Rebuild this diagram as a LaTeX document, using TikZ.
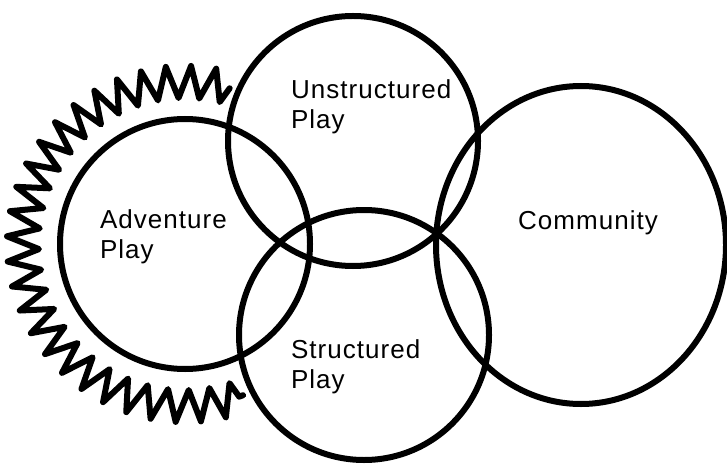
\documentclass[tikz,border=0pt]{standalone}
\usepackage{fontspec}
\setmainfont{Liberation Sans}[LetterSpace=4]
\usetikzlibrary{decorations.pathmorphing}

\begin{document}
\begin{tikzpicture}[x=1pt,y=1pt,line width=6pt,line join=round,line cap=round,
  ring/.style={draw,circle,inner sep=0pt,minimum size=250pt},
  lbl/.style={align=left,anchor=west,inner sep=0pt,font=\fontsize{26}{30}\selectfont},
  zig/.style={decorate,decoration={zigzag,segment length=23pt,amplitude=16pt}}]
  \useasboundingbox (0,0) rectangle (727,469);
  % los cuatro circulos
  \node[ring] (adv) at (185,225) {};
  \node[ring] (unstr) at (353,328) {};
  \node[ring] (str) at (364,134) {};
  \draw (581,224) ellipse (145 and 159); % comunidad
  \coordinate (comm) at (581,224);
  % borde dentado de la aventura
  \draw[zig] (adv.center) ++(74:162) arc[start angle=74,end angle=291,radius=162];
  % textos
  \node[lbl] (advtxt) at (97,232) {Adventure\\Play};
  \node[lbl] (unstrtxt) at (288,362) {Unstructured\\Play};
  \node[lbl] (strtxt) at (288,102) {Structured\\Play};
  \node[lbl,anchor=center] (commtxt) at (588,246) {Community};
\end{tikzpicture}
\end{document}
